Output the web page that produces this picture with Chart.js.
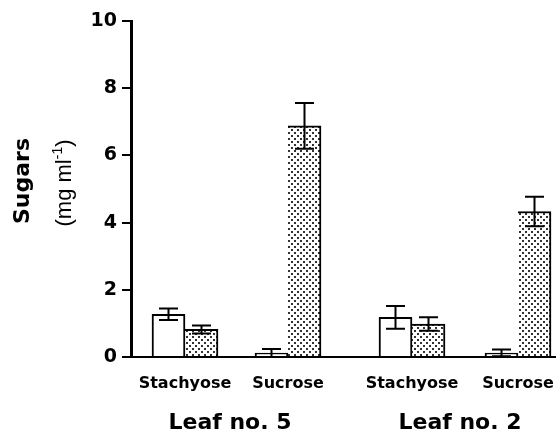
<!DOCTYPE html>
<html>
<head>
<meta charset="utf-8">
<script src="https://cdn.jsdelivr.net/npm/chart.js@4/dist/chart.umd.min.js"></script>
<style>
  html, body { margin: 0; padding: 0; background: #fff; }
  canvas { display: block; }
</style>
</head>
<body>
<canvas id="c" width="556" height="431"></canvas>
<script>
// ---------------- data ----------------
const categories = ['Stachyose', 'Sucrose', 'Stachyose', 'Sucrose'];
const groupLabels = ['Leaf no. 5', 'Leaf no. 2'];
const openValues   = [1.27, 0.12, 1.18, 0.12];
const openErrors   = [0.17, 0.12, 0.34, 0.10];
const dottedValues = [0.82, 6.88, 0.98, 4.33];
const dottedErrors = [0.12, 0.68, 0.20, 0.44];
const yTickValues  = [0, 2, 4, 6, 8, 10];

// ---------------- layout (scale units on the x axis) ----------------
const categoryPositions = [1.08, 3.14, 5.62, 7.74];
const groupLabelPositions = [1.98, 6.58];

const BOLD = '"DejaVu Sans", "Liberation Sans", Arial, sans-serif';
const REG = '"Liberation Sans", Arial, sans-serif';

// dotted fill pattern
function makePattern() {
  const t = document.createElement('canvas');
  t.width = 6; t.height = 6;
  const g = t.getContext('2d');
  g.fillStyle = '#fff';
  g.fillRect(0, 0, 6, 6);
  g.fillStyle = '#333';
  g.fillRect(0, 0, 2, 2);
  g.fillRect(3, 3, 2, 2);
  return document.getElementById('c').getContext('2d').createPattern(t, 'repeat');
}
const dots = makePattern();

const errorBars = {
  id: 'errorBars',
  afterDatasetsDraw(chart) {
    const ctx = chart.ctx;
    const y = chart.scales.y;
    const sets = [[openValues, openErrors], [dottedValues, dottedErrors]];
    ctx.save();
    ctx.strokeStyle = '#000';
    ctx.lineWidth = 2;
    sets.forEach((s, d) => {
      const meta = chart.getDatasetMeta(d);
      meta.data.forEach((el, i) => {
        const v = s[0][i], e = s[1][i];
        const yt = y.getPixelForValue(v + e);
        const yb = y.getPixelForValue(Math.max(0, v - e));
        const x = el.x, cw = 9.5;
        ctx.beginPath();
        ctx.moveTo(x, yt); ctx.lineTo(x, yb);
        ctx.moveTo(x - cw, yt); ctx.lineTo(x + cw, yt);
        ctx.moveTo(x - cw, yb); ctx.lineTo(x + cw, yb);
        ctx.stroke();
      });
    });
    ctx.restore();
  }
};

const extraText = {
  id: 'extraText',
  afterDraw(chart) {
    const ctx = chart.ctx;
    const ys = chart.scales.y;
    const xs = chart.scales.x;
    const area = chart.chartArea;
    const cy = (ys.top + ys.bottom) / 2 - 8;
    ctx.save();
    ctx.fillStyle = '#000';
    // y-axis title
    ctx.save();
    ctx.translate(ys.left + 29, cy);
    ctx.rotate(-Math.PI / 2);
    ctx.font = 'bold 22px ' + BOLD;
    ctx.textAlign = 'center';
    ctx.textBaseline = 'alphabetic';
    ctx.fillText('Sugars', 0, 0);
    ctx.restore();

    ctx.save();
    ctx.translate(ys.left + 71, cy + 2);
    ctx.rotate(-Math.PI / 2);
    ctx.textBaseline = 'alphabetic';
    ctx.textAlign = 'left';
    const f1 = '22px ' + REG, f2 = '14px ' + REG;
    const p1 = '(mg ml', p2 = '-1', p3 = ')';
    ctx.font = f1; const w1 = ctx.measureText(p1).width, w3 = ctx.measureText(p3).width;
    ctx.font = f2; const w2 = ctx.measureText(p2).width;
    let x0 = -(w1 + w2 + w3) / 2;
    ctx.font = f1; ctx.fillText(p1, x0, 0); x0 += w1;
    ctx.font = f2; ctx.fillText(p2, x0, -9); x0 += w2;
    ctx.font = f1; ctx.fillText(p3, x0, 0);
    ctx.restore();

    // group labels
    ctx.font = 'bold 22px ' + BOLD;
    ctx.textAlign = 'center';
    ctx.textBaseline = 'alphabetic';
    groupLabels.forEach((g, i) => {
      ctx.fillText(g, xs.getPixelForValue(groupLabelPositions[i]), area.bottom + 72);
    });
    ctx.restore();
  }
};

new Chart(document.getElementById('c'), {
  type: 'bar',
  data: {
    datasets: [
      {
        label: 'open',
        data: categories.map((c, i) => ({ x: categoryPositions[i], y: openValues[i] })),
        backgroundColor: '#fff',
        borderColor: '#000',
        borderWidth: { top: 2, left: 2, right: 2, bottom: 0 },
        borderSkipped: false,
        barThickness: 33
      },
      {
        label: 'dotted',
        data: categories.map((c, i) => ({ x: categoryPositions[i], y: dottedValues[i] })),
        backgroundColor: dots,
        borderColor: '#000',
        borderWidth: { top: 2, left: 0, right: 2, bottom: 0 },
        borderSkipped: false,
        barThickness: 33
      }
    ]
  },
  options: {
    responsive: false,
    animation: false,
    layout: { padding: { top: 21, right: 0, bottom: 0, left: 0 } },
    plugins: { legend: { display: false }, tooltip: { enabled: false } },
    scales: {
      x: {
        type: 'linear',
        offset: false,
        min: 0,
        max: 8.5,
        afterBuildTicks(scale) { scale.ticks = categoryPositions.map(v => ({ value: v })); },
        afterFit(scale) { scale.height = 74; scale.paddingLeft = 0; scale.paddingRight = 0; },
        grid: { display: false, drawTicks: false, offset: false },
        border: { display: true, color: '#000', width: 2 },
        ticks: {
          autoSkip: false,
          maxRotation: 0,
          padding: 17,
          color: '#000',
          font: { family: BOLD, size: 16, weight: 'bold' },
          callback: (v, i) => categories[i]
        }
      },
      y: {
        min: 0,
        max: 10,
        afterBuildTicks(scale) { scale.ticks = yTickValues.map(v => ({ value: v })); },
        afterFit(scale) { scale.width = 131; },
        grid: { drawOnChartArea: false, drawTicks: true, tickLength: 9, color: '#000', lineWidth: 2 },
        border: { display: true, color: '#000', width: 3 },
        ticks: {
          padding: 5,
          color: '#000',
          font: { family: BOLD, size: 19, weight: 'bold' }
        }
      }
    }
  },
  plugins: [errorBars, extraText]
});
</script>
</body>
</html>
